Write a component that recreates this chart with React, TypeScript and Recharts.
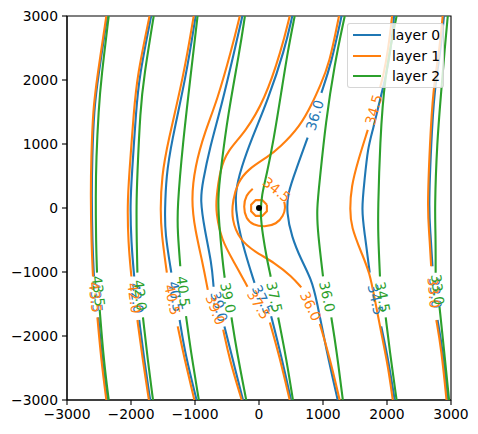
import React from "react";
import { ScatterChart, Scatter, XAxis, YAxis, ReferenceArea } from "recharts";

type Pt = [number, number];
type Seg = Pt[];
type Lbl = [number, number, string, number]; // x, y, text, angle

const BLUE = "#1f77b4";
const ORANGE = "#ff7f0e";
const GREEN = "#2ca02c";
const FONT = "'DejaVu Sans', sans-serif";

const TICKS = [-3000, -2000, -1000, 0, 1000, 2000, 3000];

// layer 0 -- each contour split in two where its inline label sits
const l0_435: Seg[] = [
  [[-2370, 3000], [-2513, 2050], [-2579, 1540], [-2607, 755], [-2615, 210], [-2604, -540], [-2579, -1070]],
  [[-2510, -1710], [-2451, -2370], [-2370, -3000]],
];
const l0_420: Seg[] = [
  [[-1685, 3000], [-1872, 2050], [-1919, 1540], [-1989, 490], [-2013, 50], [-1997, -540], [-1950, -1070]],
  [[-1872, -1750], [-1794, -2370], [-1700, -3000]],
];
const l0_405: Seg[] = [
  [[-990, 3000], [-1140, 2050], [-1370, 1020], [-1450, 494], [-1470, -30], [-1470, -390], [-1370, -1010]],
  [[-1240, -1750], [-1150, -2300], [-975, -3000]],
];
const l0_390: Seg[] = [
  [[-260, 3000], [-380, 2470], [-590, 1580], [-770, 940], [-880, 400], [-920, 130], [-850, -340], [-740, -860], [-710, -1230]],
  [[-540, -1850], [-410, -2370], [-250, -3000]],
];
const l0_375: Seg[] = [
  [[520, 3000], [400, 2470], [140, 1690], [-120, 1070], [-270, 650], [-380, 240], [-350, -180], [-220, -700], [-70, -1170]],
  [[190, -1690], [350, -2320], [500, -3000]],
];
const l0_360: Seg[] = [
  [[1290, 3000], [1130, 2260], [975, 1800]],
  [[760, 1100], [580, 600], [450, 240], [430, -70], [510, -450], [660, -810], [820, -1120], [900, -1430], [1050, -2210], [1230, -3000]],
];
const l0_345: Seg[] = [
  [[2110, 3000], [2060, 2470], [1980, 2050], [1890, 1690], [1780, 1220], [1700, 940], [1650, 440], [1600, -30], [1650, -390], [1730, -1010]],
  [[1910, -1850], [2020, -2370], [2120, -3000]],
];
const l0_330: Seg[] = [
  [[2890, 3000], [2840, 2470], [2740, 1850], [2690, 1020], [2650, -30], [2680, -390], [2710, -910]],
  [[2790, -1750], [2870, -2210], [2950, -3000]],
];

// layer 1
const l1_435: Seg[] = [
  [[-2385, 3000], [-2528, 2050], [-2594, 1540], [-2622, 755], [-2630, 210], [-2619, -540], [-2594, -1070]],
  [[-2525, -1710], [-2466, -2370], [-2385, -3000]],
];
const l1_420: Seg[] = [
  [[-1710, 3000], [-1905, 2050], [-1953, 1540], [-2031, 490], [-2056, 50], [-2044, -540], [-1994, -1070]],
  [[-1900, -1750], [-1817, -2370], [-1720, -3000]],
];
const l1_405: Seg[] = [
  [[-1020, 3000], [-1180, 2050], [-1427, 1020], [-1520, 494], [-1541, -30], [-1525, -390], [-1440, -1010]],
  [[-1270, -1850], [-1170, -2330], [-1010, -3000]],
];
const l1_390: Seg[] = [
  [[-300, 3000], [-430, 2470], [-650, 1690], [-850, 1180], [-1000, 650], [-1060, 130], [-1000, -340], [-880, -860], [-800, -1280]],
  [[-560, -1900], [-460, -2370], [-270, -3000]],
];
const l1_375: Seg[] = [
  [[480, 3000], [350, 2470], [90, 1690], [-220, 1180], [-490, 900], [-610, 600], [-670, 130], [-670, -70], [-590, -500], [-380, -860], [-180, -1230]],
  [[170, -1790], [320, -2320], [480, -3000]],
];
const l1_360: Seg[] = [
  [[1250, 3000], [1100, 2250], [950, 1900], [840, 1650], [640, 1270], [320, 940], [140, 800], [-180, 600], [-330, 400], [-410, 130], [-430, -180], [-300, -500], [-70, -680], [250, -860], [510, -1070], [660, -1240]],
  [[950, -1810], [1100, -2320], [1260, -3000]],
];
const l1_345: Seg[] = [
  [[2080, 3000], [2020, 2480], [1940, 2050], [1890, 1880]],
  [[1700, 1220], [1550, 750], [1440, 330], [1420, -30], [1440, -290], [1600, -700], [1730, -1010], [1810, -1430], [1910, -1950], [2020, -2490], [2090, -3000]],
];
// closed contours round the point at the origin
const l1_345_ring: Seg[] = [
  [[-98, 302], [-192, 192], [-231, 20], [-192, -152], [-83, -253], [89, -284], [261, -238], [370, -120], [406, 5], [394, 98]],
];
const l1_330_ring: Seg[] = [
  [[123, 51], [51, 123], [-51, 123], [-123, 51], [-123, -51], [-51, -123], [51, -123], [123, -51], [123, 51]],
];
const l1_330: Seg[] = [
  [[2870, 3000], [2820, 2470], [2720, 1850], [2670, 1020], [2630, -30], [2660, -390], [2690, -910]],
  [[2770, -1750], [2850, -2210], [2930, -3000]],
];

// layer 2
const l2_435: Seg[] = [
  [[-2348, 3000], [-2463, 2050], [-2506, 1540], [-2544, 755], [-2552, 210], [-2547, -540], [-2531, -1010]],
  [[-2489, -1590], [-2427, -2370], [-2348, -3000]],
];
const l2_420: Seg[] = [
  [[-1645, 3000], [-1798, 2050], [-1855, 1540], [-1903, 490], [-1916, 50], [-1911, -540], [-1900, -1010]],
  [[-1813, -1710], [-1739, -2370], [-1656, -3000]],
];
const l2_405: Seg[] = [
  [[-960, 3000], [-1070, 2050], [-1190, 1020], [-1280, -30], [-1270, -390], [-1230, -910]],
  [[-1140, -1690], [-1070, -2210], [-940, -3000]],
];
const l2_390: Seg[] = [
  [[-220, 3000], [-300, 2470], [-490, 1430], [-590, 650], [-650, 130], [-614, -340], [-567, -855], [-536, -1090]],
  [[-430, -1710], [-353, -2210], [-200, -3000]],
];
const l2_375: Seg[] = [
  [[558, 3000], [453, 2470], [347, 1800], [230, 1070], [120, 520], [42, 208], [19, -105], [63, -444], [116, -756], [183, -1073]],
  [[300, -1710], [430, -2370], [530, -3000]],
];
const l2_360: Seg[] = [
  [[1340, 3000], [1180, 2250], [1040, 1320], [950, 440], [900, -30], [920, -390], [1000, -1070]],
  [[1130, -1710], [1210, -2210], [1310, -3000]],
];
const l2_345: Seg[] = [
  [[2150, 3000], [1960, 2050], [1890, 1020], [1860, -30], [1860, -390], [1890, -1070]],
  [[1980, -1710], [2040, -2210], [2150, -3000]],
];
const l2_330: Seg[] = [
  [[2950, 3000], [2900, 2470], [2850, 1850], [2780, 1020], [2745, -30], [2760, -390], [2760, -1010]],
  [[2820, -1540], [2890, -2210], [2970, -3000]],
];

const layer0 = [l0_435, l0_420, l0_405, l0_390, l0_375, l0_360, l0_345, l0_330];
const layer1 = [l1_435, l1_420, l1_405, l1_390, l1_375, l1_360, l1_345, l1_345_ring, l1_330_ring, l1_330];
const layer2 = [l2_435, l2_420, l2_405, l2_390, l2_375, l2_360, l2_345, l2_330];

const labels0: Lbl[] = [
  [-2544, -1394, "43.5", 84], [-1911, -1408, "42.0", 82], [-1302, -1386, "40.5", 80], [-622, -1542, "39.0", 75],
  [58, -1433, "37.5", 64], [870, 1450, "36.0", -73], [1823, -1433, "34.5", 78], [2755, -1328, "33.0", 85],
];
const labels1: Lbl[] = [
  [-2559, -1394, "43.5", 84], [-1947, -1408, "42.0", 82], [-1352, -1433, "40.5", 78], [-681, -1589, "39.0", 69],
  [-5, -1511, "37.5", 59], [808, -1534, "36.0", 64], [1792, 1536, "34.5", -74], [277, 286, "34.5", 38],
  [2730, -1323, "33.0", 85],
];
const labels2: Lbl[] = [
  [-2509, -1300, "43.5", 84], [-1856, -1363, "42.0", 83], [-1181, -1303, "40.5", 83], [-484, -1402, "39.0", 78],
  [241, -1394, "37.5", 78], [1066, -1386, "36.0", 78], [1933, -1394, "34.5", 80], [2792, -1277, "33.0", 84],
];

const centre = [{ x: 0, y: 0 }];

const layers = [
  { name: "layer 0", color: BLUE, lines: layer0, labels: labels0 },
  { name: "layer 1", color: ORANGE, lines: layer1, labels: labels1 },
  { name: "layer 2", color: GREEN, lines: layer2, labels: labels2 },
];

const fmt = (v: number) => (v < 0 ? `\u2212${Math.abs(v)}` : `${v}`);
const noDot = () => <g />;

// open contours get a b-spline so uneven point spacing does not kink them
const curveFor = (contour: Seg[]) =>
  contour === l1_330_ring ? "linear" : contour === l1_345_ring ? "natural" : "basis";

const labelShape = (color: string) => (p: any) => {
  const { cx, cy, payload } = p;
  return (
    <text
      x={cx}
      y={cy}
      fill={color}
      fontSize={13.9}
      fontFamily={FONT}
      textAnchor="middle"
      dominantBaseline="central"
      transform={`rotate(${payload.angle} ${cx} ${cy})`}
    >
      {payload.text}
    </text>
  );
};

export default function App() {
  const axisStyle = { stroke: "#000", strokeWidth: 1.1 };
  const tickStyle = { fill: "#000", fontSize: 13.9, fontFamily: FONT };
  return (
    <div style={{ position: "absolute", left: 0, top: 0, width: 478, height: 434, background: "#fff" }}>
      <ScatterChart width={478} height={434} margin={{ top: 16, right: 27, bottom: 0, left: 0 }}>
        <XAxis
          type="number"
          dataKey="x"
          domain={[-3000, 3000]}
          ticks={TICKS}
          interval={0}
          allowDataOverflow
          tickFormatter={fmt}
          height={34}
          tickSize={5}
          tickMargin={4}
          axisLine={axisStyle}
          tickLine={axisStyle}
          tick={tickStyle}
        />
        <YAxis
          type="number"
          dataKey="y"
          domain={[-3000, 3000]}
          ticks={TICKS}
          interval={0}
          allowDataOverflow
          tickFormatter={fmt}
          width={67}
          tickSize={5}
          tickMargin={4}
          axisLine={axisStyle}
          tickLine={axisStyle}
          tick={tickStyle}
        />
        <ReferenceArea x1={-3000} x2={3000} y1={-3000} y2={3000} fill="none" fillOpacity={0} stroke="#000" strokeWidth={1.1} />
        {layers.flatMap((layer, li) =>
          layer.lines.flatMap((contour, ci) =>
            contour.map((seg, si) => (
              <Scatter
                key={`l${li}-${ci}-${si}`}
                data={seg.map(([x, y]) => ({ x, y }))}
                line={{ stroke: layer.color, strokeWidth: 2.1 }}
                lineJointType={curveFor(contour)}
                shape={noDot}
                legendType="none"
                isAnimationActive={false}
              />
            ))
          )
        )}
        {layers.map((layer, li) => (
          <Scatter
            key={`lab${li}`}
            data={layer.labels.map(([x, y, text, angle]) => ({ x, y, text, angle }))}
            shape={labelShape(layer.color)}
            legendType="none"
            isAnimationActive={false}
          />
        ))}
        <Scatter
          data={centre}
          shape={(p: any) => <circle cx={p.cx} cy={p.cy} r={3} fill="#000" />}
          legendType="none"
          isAnimationActive={false}
        />
      </ScatterChart>
      <div
        style={{
          position: "absolute",
          left: 347,
          top: 22.5,
          width: 97,
          height: 65,
          background: "rgba(255,255,255,0.8)",
          border: "1px solid rgba(204,204,204,0.8)",
          borderRadius: 3,
          boxSizing: "border-box",
        }}
      >
        {layers.map((layer, i) => (
          <div key={layer.name} style={{ position: "absolute", left: 0, top: 11.5 + i * 20.7 - 10, height: 20, width: 95 }}>
            <div style={{ position: "absolute", left: 5, top: 9, width: 28, height: 2.1, background: layer.color }} />
            <div
              style={{
                position: "absolute",
                left: 44,
                top: 0,
                lineHeight: "20px",
                fontSize: 13.9,
                fontFamily: FONT,
                color: "#000",
                whiteSpace: "nowrap",
              }}
            >
              {layer.name}
            </div>
          </div>
        ))}
      </div>
    </div>
  );
}
